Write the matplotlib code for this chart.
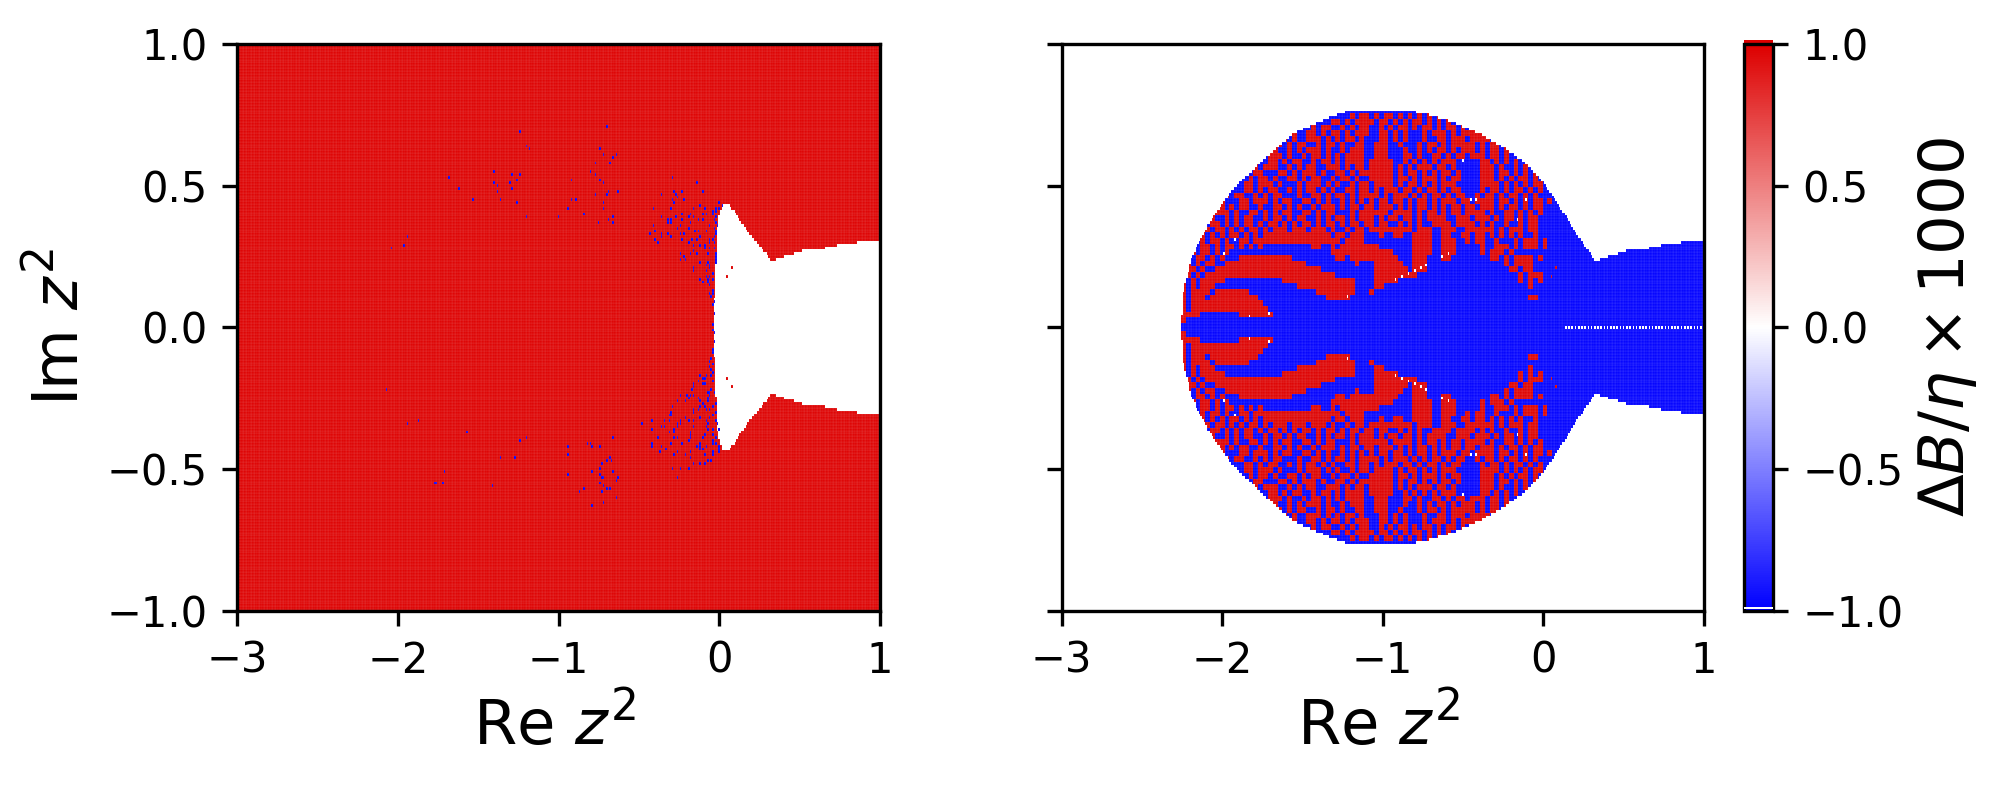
import numpy as np
import matplotlib
matplotlib.use('Agg')
import matplotlib.pyplot as plt
from matplotlib.colors import LinearSegmentedColormap
from matplotlib.patches import Rectangle
from matplotlib.path import Path

# upper half of the region where the left panel is white (mirrored in Im)
wedge_re = [-0.036, -0.03, -0.022, -0.012, 0.0, 0.02, 0.042, 0.06, 0.098, 0.171, 0.233, 0.326,
            0.388, 0.45, 0.533, 0.627, 0.762, 0.917, 1.01]
wedge_im = [0.0, 0.10, 0.224, 0.353, 0.40, 0.43, 0.44, 0.43, 0.406, 0.342, 0.30, 0.235,
            0.247, 0.257, 0.273, 0.277, 0.294, 0.304, 0.305]

# upper half of the outline of the filled region in the right panel
outline_re = [-2.255, -2.24, -2.19, -2.086, -1.941, -1.723, -1.557, -1.42, -1.319, -1.205, -0.832,
              -0.666, -0.541, -0.396, -0.251, -0.106, 0.008, 0.091, 0.168, 0.236, 0.326,
              0.388, 0.45, 0.533, 0.627, 0.762, 0.917, 1.01]
outline_im = [0.0, 0.129, 0.247, 0.365, 0.483, 0.601, 0.684, 0.719, 0.743, 0.765, 0.765,
              0.743, 0.719, 0.684, 0.636, 0.577, 0.507, 0.436, 0.365, 0.306, 0.235,
              0.247, 0.257, 0.273, 0.277, 0.294, 0.304, 0.305]

# blue cells in the red part of the left panel
speck_re = [-0.70, -1.235, -1.204, -1.184, -0.742, -0.725, -0.642, -0.663, -0.769, -0.684, -0.80, -0.773,
            -1.403, -1.293, -1.235, -1.683, -1.264, -1.302, -1.403, -1.385, -1.293, -1.623, -1.385, -1.534,
            -1.364, -1.264, -0.924, -0.742, -0.725, -0.692, -0.634, -0.773, -0.704, -0.924, -0.893, -0.725,
            -0.943, -0.725, -0.835, -1.202, -1.003, -0.663, -0.692, -0.752, -0.655, -1.944, -1.963, -2.044,
            -0.294, -0.145, -0.364, -0.283, -0.273, -0.232, -0.105, -0.263, -0.294, -0.223, -0.283, -0.414,
            -0.304, -0.165, -0.124, -0.09, -0.024, -0.003, 0.015, -0.005, -0.045, -0.016, -0.232, -0.182,
            -0.105, -0.082, -0.037, -0.362, -0.269, -0.192, -0.161, -0.016, -0.323, -0.304, -0.232, -0.132,
            -0.105, -0.033, -0.323, -0.304, -0.182, -0.024, -0.414, -0.244, -0.057, -0.012, -0.263, -0.192,
            -0.033, -0.404, -0.151, -0.132, -0.082, -0.016, -0.433, -0.364, -0.323, -0.244, -0.223, -0.016,
            -0.364, -0.304, -0.115, -0.033, -0.404, -0.232, -0.174, -0.145, -0.061, -0.04, -0.385, -0.192,
            -0.057, -0.027, -0.165, -0.124, -0.086, -0.057, -0.093, -0.033, -0.165, -0.24, -0.182, -0.136,
            -0.074, -0.024, -0.223, -0.024, -0.24, -0.207, -0.024, -0.12, -0.074, -0.024, -0.082, -0.061,
            -0.165, -0.061, -0.165, -0.082, -0.045, -0.082, -0.061, -0.115, -0.074, -0.037, -0.095, -0.074,
            -0.057, -0.045, -0.061, -0.037, -0.053, -0.033, -0.037, -0.033, -0.04,
            -0.04, -0.033, -0.03, -0.04, -0.04, -0.05, -0.06, -0.045, -0.06, -0.05, -0.04, -0.12,
            -0.08, -0.05, -0.10, -0.09, -0.165, -0.10, -0.09, -0.13, -0.045, -0.165, -0.17, -0.05,
            -0.07, -0.06, -0.03, -0.24, -0.20, -0.18, -0.165, -0.06, -0.19, -0.13, -0.07, -0.26,
            -0.21, -0.115, -0.07, -0.105, -0.025, -0.29, -0.125, -0.09, -0.04, -0.155, -0.13, -0.08,
            -0.06, -0.30, -0.165, -0.015, -0.31, -0.295, -0.045, -0.21, -0.125, -0.06, -0.425, -0.34,
            -0.31, -0.24, -0.19, -0.165, -0.08, -0.015, -0.485, -0.26, -0.235, -0.07, -0.01, -0.365,
            -0.34, -0.255, -0.16, -0.08, -0.415, -0.275, -0.07, -0.035, -0.005, -0.31, -0.285, -0.18,
            -0.09, -0.045, -0.18, -0.385, -0.285, -0.255, -0.18, -0.105, -0.015, -0.19, -0.035, -0.425,
            -0.305, -0.23, -0.115, -0.045, -0.015, -0.415, -0.365, -0.14, -0.115, -0.08, -0.005, -0.33,
            -0.125, -0.105, 0.005, -0.37, -0.26, -0.175, -0.035, -0.005, -0.275, -0.21, -0.09, -0.035,
            -0.18, -0.07, -0.05, -0.155, -0.125, -0.09, -0.29, -0.24, -0.19, -0.255,
            -2.073, -1.944, -1.874, -1.712, -1.77, -1.76, -1.72, -1.57, -1.41, -1.364, -1.274, -1.244,
            -1.20, -0.943, -0.943, -0.935, -0.815, -0.80, -0.794, -0.742, -0.663, -0.684, -0.70, -0.674,
            -0.733, -0.742, -0.785, -0.663, -0.742, -0.733, -0.715, -0.634, -0.642, -0.742, -0.725, -0.84,
            -0.865, -0.70, -0.684, -0.733, -0.642, -0.715, -0.794]
speck_im = [0.711, 0.691, 0.641, 0.631, 0.631, 0.611, 0.611, 0.60, 0.58, 0.58, 0.55, 0.541,
            0.55, 0.541, 0.541, 0.53, 0.52, 0.51, 0.51, 0.50, 0.49, 0.49, 0.48, 0.45,
            0.45, 0.44, 0.52, 0.52, 0.51, 0.48, 0.48, 0.47, 0.47, 0.45, 0.45, 0.44,
            0.42, 0.42, 0.40, 0.39, 0.39, 0.39, 0.38, 0.37, 0.37, 0.32, 0.29, 0.28,
            0.53, 0.51, 0.47, 0.48, 0.47, 0.48, 0.48, 0.46, 0.45, 0.45, 0.44, 0.42,
            0.42, 0.42, 0.43, 0.42, 0.42, 0.44, 0.43, 0.42, 0.41, 0.41, 0.40, 0.40,
            0.40, 0.40, 0.40, 0.39, 0.39, 0.39, 0.39, 0.39, 0.38, 0.38, 0.38, 0.38,
            0.38, 0.38, 0.37, 0.37, 0.37, 0.37, 0.36, 0.36, 0.36, 0.36, 0.35, 0.35,
            0.35, 0.34, 0.34, 0.34, 0.34, 0.34, 0.33, 0.33, 0.33, 0.33, 0.33, 0.33,
            0.32, 0.32, 0.32, 0.32, 0.31, 0.31, 0.31, 0.31, 0.31, 0.31, 0.30, 0.30,
            0.30, 0.30, 0.29, 0.29, 0.29, 0.28, 0.28, 0.28, 0.27, 0.26, 0.26, 0.26,
            0.26, 0.26, 0.25, 0.25, 0.24, 0.24, 0.24, 0.23, 0.23, 0.23, 0.22, 0.22,
            0.21, 0.21, 0.20, 0.20, 0.19, 0.18, 0.18, 0.17, 0.17, 0.17, 0.16, 0.16,
            0.15, 0.13, 0.12, 0.12, 0.11, 0.09, 0.08, 0.05, 0.01,
            -0.01, -0.02, -0.05, -0.08, -0.09, -0.11, -0.12, -0.13, -0.14, -0.15, -0.16, -0.17,
            -0.17, -0.17, -0.18, -0.18, -0.20, -0.20, -0.20, -0.19, -0.19, -0.21, -0.22, -0.22,
            -0.23, -0.23, -0.23, -0.24, -0.24, -0.24, -0.24, -0.24, -0.25, -0.25, -0.25, -0.26,
            -0.26, -0.26, -0.26, -0.27, -0.27, -0.28, -0.28, -0.28, -0.28, -0.29, -0.29, -0.29,
            -0.29, -0.30, -0.30, -0.30, -0.31, -0.31, -0.31, -0.32, -0.32, -0.32, -0.33, -0.33,
            -0.33, -0.33, -0.33, -0.33, -0.33, -0.33, -0.34, -0.34, -0.34, -0.34, -0.34, -0.35,
            -0.35, -0.35, -0.35, -0.35, -0.36, -0.36, -0.36, -0.36, -0.36, -0.37, -0.37, -0.37,
            -0.38, -0.38, -0.38, -0.39, -0.39, -0.39, -0.39, -0.39, -0.39, -0.40, -0.40, -0.41,
            -0.41, -0.41, -0.41, -0.41, -0.41, -0.42, -0.42, -0.42, -0.42, -0.42, -0.42, -0.43,
            -0.43, -0.43, -0.43, -0.44, -0.44, -0.44, -0.44, -0.44, -0.45, -0.45, -0.45, -0.45,
            -0.46, -0.47, -0.47, -0.48, -0.48, -0.48, -0.50, -0.50, -0.50, -0.53,
            -0.22, -0.34, -0.33, -0.51, -0.55, -0.55, -0.55, -0.37, -0.56, -0.46, -0.46, -0.40,
            -0.39, -0.42, -0.45, -0.52, -0.41, -0.41, -0.42, -0.42, -0.39, -0.46, -0.47, -0.47,
            -0.48, -0.50, -0.51, -0.51, -0.52, -0.53, -0.53, -0.53, -0.54, -0.55, -0.56, -0.57,
            -0.58, -0.57, -0.57, -0.58, -0.60, -0.62, -0.63]

# red cells inside the white wedge, both panels (mirrored in Im)
red_dot_re = [0.084, 0.054]
red_dot_im = [0.21, 0.18]

# white cells at the tips of the red lobes, right panel (mirrored in Im)
white_dot_re = [-1.827, -1.713, -1.987, -1.92, -1.222, -0.919, -0.878, -0.838, -0.797, -0.764, -0.728,
                -0.631, -0.594, -0.16, -0.498, -0.448, -0.417, -0.106]
white_dot_im = [0.04, 0.05, 0.26, 0.31, 0.11, 0.17, 0.18, 0.19, 0.20, 0.21, 0.22,
                0.25, 0.26, 0.38, 0.59, 0.45, 0.45, 0.45]

# white cells along Im = 0, right panel
axis_dot_re = [0.14, 0.16, 0.18, 0.20, 0.22, 0.24, 0.26, 0.28, 0.30, 0.32, 0.34, 0.36, 0.38, 0.40, 0.42,
               0.44, 0.46, 0.48, 0.50, 0.52, 0.54, 0.56, 0.58, 0.60, 0.62, 0.64, 0.66, 0.68, 0.70, 0.72,
               0.74, 0.76, 0.78, 0.80, 0.82, 0.84, 0.86, 0.88, 0.90, 0.92, 0.94, 0.96, 0.98, 1.00]

# red/blue pattern of the right panel, coarse blocks.
# rows go from Im = 0.76 down to Im = 0, # is red. Mirrored in Im.
red_left = [
    '#.#',
    '##.#.##',
    '#.##..#.#.#',
    '#..##.#.##.#.##',
    '.#.#..###.#.#.##.#',
    '#.##.#.##..#.##.#..##',
    '.#.##..#.#.###.#..#.###',
    '#..#.###.#..#.##.#.#.####',
    '.##.#..##.#.##..#.##.#.####',
    '#.#.##..#.###..#.#.##..###.#.##',
    '.##..#.#.##...##.#.###.#..##.#.#',
    '#.#..##..#.##.#..##.#.##..#.##.#.',
    '.#.##...##.###.#...#.###.#.#..#.#',
    '#.###.#...##.#.##..#.#.##.#.#..##.#',
    '..#.#.##.##..#.#.##...#..##.#.##.#.#',
    '#.##..#...##.###.#.##..##.#.#..#.#.#',
    '.#..#.##.#.##..#..##.#.#..#.###.#.##.',
    '#.##...###.#..##.#.#.##..##.#.##...#.#',
    '.#.#.##..#.#.##..#.##.#.##..#.#.##.#.#',
    '.....' + '#.##.#.#.##.#.##.#.#.##.#.##.#.##.',
    '....' + '#.#.##.#.#.##.' + '#.###.###.###' + '.#..#.##',
    '....' + '##.#.#.##.#.#.' + '#' * 14 + '.##.###',
    '...' + '#.#.##.#..##.' + '#' * 17 + '#.####',
    '...' + '#.##.#.##.' + '#.#.#..' + '.' * 8 + '##..#.#####',
    '...' + '#.##.#.#' + '.' * 20 + '.#######',
    '..' + '#.##.#.#' + '...' + '#' * 11 + '.' * 9 + '##.###',
    '..' + '#.#.##.' + '.' + '#' * 17 + '.' * 10 + '#.',
    '..' + '##.#.' + '.' + '#' * 22 + '.' * 9,
    '..' + '#.#.#' + '#' * 26 + '.' * 6,
    '.' + '#.#.#' + '####' + '.' * 11 + '.' + '#' * 15 + '..',
    '.' + '#.#.' + '###' + '.' * 17 + '#' * 12 + '..',
    '.' + '#.#' + '###' + '.' + '#' * 7 + '.' * 14 + '#' * 8 + '..',
    '.' + '#.#' + '##' + '.' + '#' * 10 + '.' * 14 + '#' * 5 + '...',
    '.' + '#.' + '##' + '#' * 13 + '.' * 21,
    '.' + '#.' + '#' * 16 + '.' * 20,
    '.' + '####' + '.' * 8 + '#' * 7 + '.' * 19,
    '##' + '.' * 37,
    '#' + '.' * 38,
]
red_right = [
    '#.#.##.#.#.#.#.#',
    '##.##.#.#.##.#.#.#',
    '#..#.#.##.#.##.#.##.#',
    '#..##.#.#...#.###.#.#####.#.#',
    '...##.#.#...#..##.###.####.##.##.',
    '..###..#...#.##.#.#####.#.##.##..#.#.',
    '..###...#..#.#.##.#.###.#.##.#.#..#.#',
    '..###...##.#..##.#.##.###.##.#..##..#',
    '.#####..#.#.#.#.###.....##.#.#.#..#.#.#',
    '.#####.#.#.###.##.#.....###.#..#.#.#.#.',
    '######.#.##.#.#.##.#....###.##.#.#.#.#.',
    '.#####.##.#.###.#.##....###.#.#.##.#.#.',
    '#.####.#.##.#.#.###.....####.#.#.#.##..',
    '#.#.###.##.#.##.#.##....#.##.#.##.#.#..',
    '###.#.###.#.#.##.#.##..#.##.#.##.#.#...',
    '.#.##.##.#.##.#.###.##.####.##.#.#.##.#',
    '##.###.#.#.##.#.#.##.##.###.#.##.#.##.',
    '#####.####.#.##.#.##.####.#..##.#.#.#.',
    '##.#.##.##.#.####..###.###.#.##.#.##..',
    '##.##..#.#.#..####.####.#.#..#..#.##...',
    '.#########.###..###..######.#.###.##...',
    '...#..##..####..##..##.##.#.#.#.#..#...',
    '..........####..###..#.##..#...#.###.#.',
    '###.......####..###.....#..###.#.###.#.',
    '######....####..###.....#.###.#........',
    '#######...###...##........##.#.####.#..',
    '..######..###................#.####....',
    '..#######.###.................##.##....',
    '..#########.....................#.###..',
    '..#####.........................#.#.#..',
    '..##' + '.' * 30 + '#....',
    '.#',
    '.' * 34 + '##...',
    '', '', '', '', '',
]

tick_x = [-3, -2, -1, 0, 1]
tick_y = [-1.0, -0.5, 0.0, 0.5, 1.0]
tick_cb = [-1.0, -0.5, 0.0, 0.5, 1.0]

re = np.arange(401) * 0.01 - 3
im = np.arange(201) * 0.01 - 1
rr, ii = np.meshgrid(re, im)
cells = np.column_stack([rr.ravel(), ii.ravel()])


def inside(xs, ys):
    # polygon mirrored in Im, closed past the right edge
    px = list(xs) + list(xs[::-1])
    py = list(ys) + [-v for v in ys[::-1]]
    return Path(np.column_stack([px, py])).contains_points(cells).reshape(rr.shape)


def cell(a, b):
    return int(round((b + 1) / 0.01)), int(round((a + 3) / 0.01))


wedge = inside(wedge_re, wedge_im)
domain = inside(outline_re, outline_im)

# left panel
left = np.ones(rr.shape)
left[wedge] = np.nan
for a, b in zip(speck_re, speck_im):
    left[cell(a, b)] = -1

# right panel
pattern = np.array([list(a[-39:].rjust(39, '.') + b[:39].ljust(39, '.'))
                    for a, b in zip(red_left, red_right)])[::-1] == '#'
cols = np.floor((rr + 2.28) / 0.03 + 1e-6).astype(int)
rows = np.floor(np.abs(ii) / 0.02 + 1e-6).astype(int)
ok = (cols >= 0) & (cols < pattern.shape[1]) & (rows < pattern.shape[0])
right = -np.ones(rr.shape)
right[ok] = np.where(pattern[rows[ok], cols[ok]], 1, -1)
right[~domain] = np.nan
for a, b in zip(white_dot_re, white_dot_im):
    right[cell(a, b)] = np.nan
    right[cell(a, -b)] = np.nan
for a in axis_dot_re:
    right[cell(a, 0.0)] = np.nan
for a, b in zip(red_dot_re, red_dot_im):
    for s in (1, -1):
        left[cell(a, s * b)] = 1
        right[cell(a, s * b)] = 1

cmap = LinearSegmentedColormap.from_list('bwr_dark', ['#0000ff', '#ffffff', '#dd0000'])

fig = plt.figure(figsize=(6.72, 790 / 300), dpi=300)
W, H = 2016.0, 790.0
ax1 = fig.add_axes([237 / W, 1 - 610.5 / H, 643 / W, 566.5 / H])
ax2 = fig.add_axes([1061.5 / W, 1 - 610.5 / H, 642.5 / W, 566.5 / H])
cax = fig.add_axes([1743.5 / W, 1 - 610.5 / H, 29.5 / W, 566.5 / H])

# thin pale edges give the light seams between the cells
m1 = ax1.pcolormesh(re, im, left, cmap=cmap, vmin=-1, vmax=1, shading='nearest',
                    antialiased=True, edgecolors='white', linewidth=0.015)
m2 = ax2.pcolormesh(re, im, right, cmap=cmap, vmin=-1, vmax=1, shading='nearest',
                    antialiased=True, edgecolors='white', linewidth=0.015)

for ax in (ax1, ax2):
    ax.set_xlim(-3, 1)
    ax.set_ylim(-1, 1)
    ax.set_xticks(tick_x)
    ax.set_yticks(tick_y)
    ax.tick_params(labelsize=10)
    ax.set_xlabel(r'Re $z^2$', fontsize=15, labelpad=3, x=0.494)
ax1.set_ylabel(r'Im $z^2$', fontsize=15, labelpad=3.5)
ax2.set_yticklabels([])

cb = fig.colorbar(m2, cax=cax, ticks=tick_cb)
cb.ax.tick_params(labelsize=10)
cb.set_label(r'$\Delta B/\eta \times 1000$', fontsize=15, labelpad=3)
# the original bar is drawn a few pixels off its frame
cax.add_patch(Rectangle((0, 1.0), 1, 0.007, transform=cax.transAxes, color='#dd0000', lw=0, clip_on=False))
cax.add_patch(Rectangle((0, 0.003), 1, 0.004, transform=cax.transAxes, color='white', lw=0, zorder=3))

plt.savefig('out.png', dpi=300)
